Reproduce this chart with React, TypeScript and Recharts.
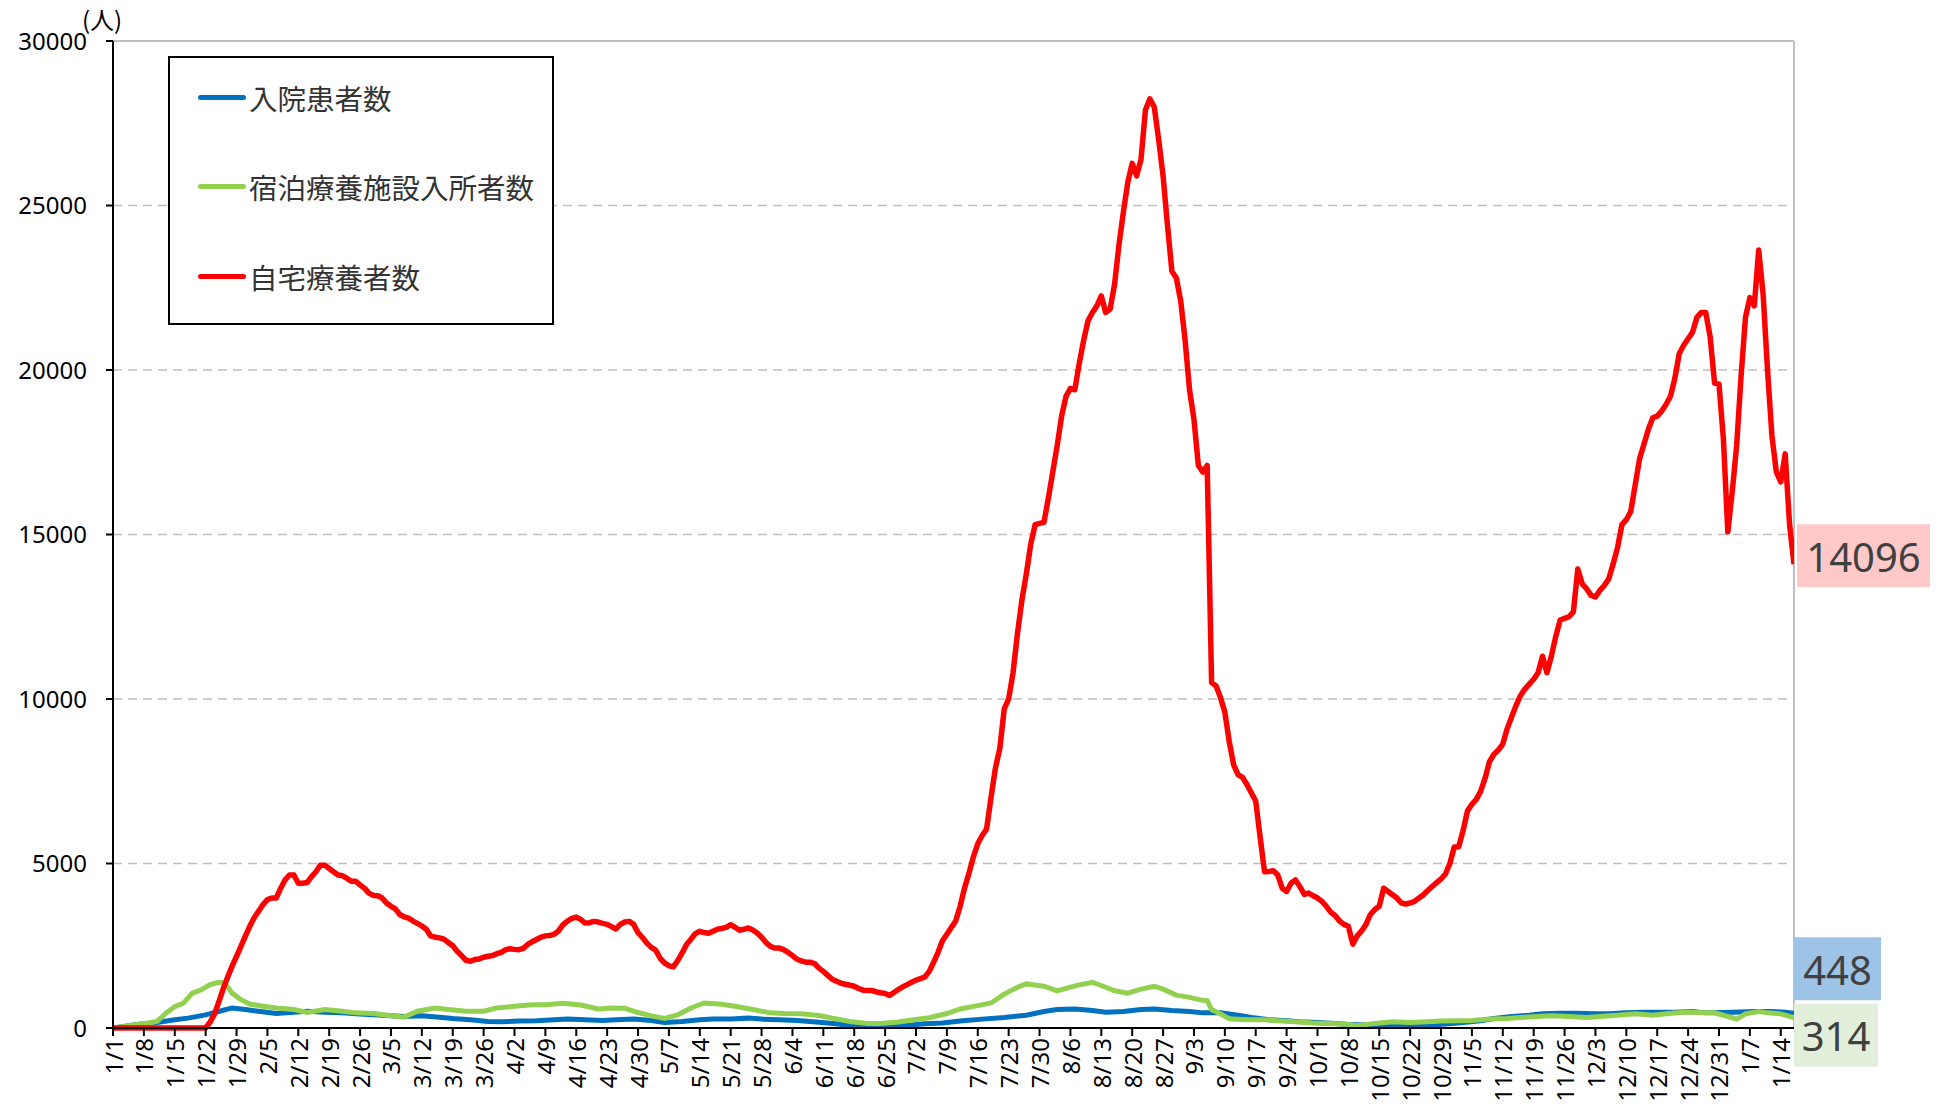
import React from 'react';
import { CartesianGrid, LabelList, Line, LineChart, ReferenceLine, XAxis, YAxis } from 'recharts';

const xTickLabels = [
  '1/1', '1/8', '1/15', '1/22', '1/29', '2/5', '2/12', '2/19', '2/26', '3/5', '3/12', '3/19', '3/26',
  '4/2', '4/9', '4/16', '4/23', '4/30', '5/7', '5/14', '5/21', '5/28', '6/4', '6/11', '6/18', '6/25',
  '7/2', '7/9', '7/16', '7/23', '7/30', '8/6', '8/13', '8/20', '8/27', '9/3', '9/10', '9/17', '9/24',
  '10/1', '10/8', '10/15', '10/22', '10/29', '11/5', '11/12', '11/19', '11/26', '12/3', '12/10',
  '12/17', '12/24', '12/31', '1/7', '1/14',
];
const yTicks = [0, 5000, 10000, 15000, 20000, 25000, 30000];
const lastDay = 381;

// 自宅療養者数, one value per day from 1/1
const homeCare = [
  0, 0, 0, 0, 0, 0, 0, 0, 0, 0,
  0, 0, 0, 0, 0, 0, 0, 0, 0, 0,
  0, 0, 180, 420, 800, 1200, 1550, 1880, 2180, 2480,
  2790, 3090, 3350, 3550, 3750, 3900, 3950, 3950, 4250, 4500,
  4650, 4650, 4400, 4400, 4420, 4600, 4750, 4950, 4950, 4850,
  4750, 4650, 4630, 4550, 4460, 4460, 4350, 4250, 4100, 4030,
  4020, 3950, 3800, 3700, 3620, 3450, 3380, 3340, 3250, 3180,
  3100, 3000, 2800, 2760, 2740, 2700, 2600, 2500, 2330, 2200,
  2060, 2030, 2080, 2100, 2150, 2180, 2200, 2260, 2300, 2380,
  2410, 2390, 2380, 2420, 2540, 2620, 2690, 2760, 2800, 2810,
  2850, 2950, 3140, 3250, 3330, 3370, 3300, 3190, 3200, 3240,
  3220, 3180, 3150, 3080, 3010, 3150, 3220, 3240, 3150, 2900,
  2750, 2580, 2450, 2370, 2120, 1980, 1890, 1860, 2050, 2280,
  2540, 2700, 2870, 2940, 2900, 2880, 2940, 3000, 3030, 3060,
  3140, 3060, 2970, 3000, 3040, 2980, 2890, 2760, 2600, 2480,
  2430, 2430, 2380, 2300, 2200, 2090, 2040, 2000, 2000, 1960,
  1820, 1720, 1600, 1480, 1420, 1360, 1330, 1300, 1270, 1200,
  1150, 1140, 1140, 1100, 1070, 1050, 990, 1080, 1170, 1250,
  1320, 1390, 1450, 1500, 1550, 1720, 2000, 2300, 2650, 2850,
  3050, 3250, 3700, 4250, 4700, 5200, 5600, 5850, 6050, 7000,
  7900, 8500, 9700, 10000, 10800, 12000, 13000, 13800, 14700, 15300,
  15340, 15370, 16100, 16900, 17700, 18600, 19200, 19440, 19400, 20200,
  20900, 21500, 21750, 21950, 22250, 21750, 21850, 22600, 23800, 24800,
  25700, 26280, 25900, 26400, 27900, 28240, 28000, 27000, 25900, 24400,
  23000, 22800, 22100, 20900, 19400, 18500, 17100, 16900, 17100, 10500,
  10400, 10050, 9600, 8700, 8000, 7700, 7620, 7400, 7150, 6900,
  5800, 4750, 4760, 4780, 4650, 4250, 4150, 4400, 4500, 4300,
  4060, 4100, 4020, 3950, 3850, 3700, 3520, 3420, 3250, 3150,
  3090, 2550, 2800, 2950, 3150, 3450, 3600, 3700, 4250, 4150,
  4050, 3950, 3800, 3770, 3800, 3850, 3950, 4050, 4180, 4300,
  4420, 4530, 4680, 5000, 5500, 5510, 6000, 6600, 6800, 6950,
  7200, 7600, 8100, 8320, 8450, 8630, 9100, 9450, 9800, 10100,
  10300, 10450, 10600, 10800, 11300, 10800, 11300, 11900, 12400, 12450,
  12500, 12650, 13950, 13500, 13350, 13150, 13100, 13300, 13450, 13650,
  14100, 14600, 15300, 15450, 15700, 16500, 17300, 17750, 18200, 18550,
  18600, 18750, 18950, 19200, 19750, 20500, 20750, 20950, 21150, 21600,
  21750, 21750, 21000, 19600, 19570, 17900, 15080, 16300, 17700, 19800,
  21600, 22200, 21950, 23650, 22300, 20000, 18000, 16900, 16600, 17450,
  15300, 14096,
];

// 宿泊療養施設入所者数 (sampled days)
const facilityDays = [
  0, 5, 8, 10, 12, 14, 16, 18, 20, 22, 24, 25, 26, 27, 29, 31, 34, 37, 41, 44, 48, 52, 55, 59, 63, 66,
  69, 73, 76, 80, 84, 87, 91, 95, 98, 102, 106, 110, 113, 116, 119, 122, 125, 128, 131, 134, 138, 141,
  145, 149, 152, 156, 160, 163, 167, 171, 174, 178, 182, 185, 189, 192, 196, 199, 202, 205, 207, 211,
  214, 217, 219, 222, 225, 227, 230, 233, 236, 238, 241, 244, 247, 248, 249, 251, 253, 257, 261, 264,
  268, 272, 275, 279, 282, 286, 290, 294, 298, 301, 305, 308, 312, 316, 319, 323, 326, 330, 334, 337,
  341, 345, 349, 352, 356, 358, 361, 363, 366, 368, 370, 373, 375, 378, 381,
];
const facilityValues = [
  0, 100, 150, 200, 450, 650, 760, 1060, 1160, 1320, 1390, 1380, 1250, 1060, 860, 730, 660, 610, 560, 470, 560, 510, 460, 440, 370, 330,
  510, 610, 560, 510, 510, 610, 660, 710, 710, 750, 700, 580, 610, 600, 470, 370, 290, 400, 610, 760, 720, 660,
  560, 460, 440, 430, 380, 300, 200, 140, 140, 180, 260, 310, 440, 580, 680, 760, 1030, 1240, 1340, 1270,
  1130, 1240, 1310, 1390, 1240, 1130, 1060, 1180, 1270, 1180, 1000, 930, 840, 830, 560, 430, 280, 250, 250, 220,
  190, 150, 140, 120, 70, 140, 190, 170, 190, 210, 220, 230, 270, 290, 320, 350, 370, 350, 320, 350,
  390, 430, 390, 430, 480, 480, 460, 460, 350, 270, 430, 500, 460, 430, 314,
];

// 入院患者数 (sampled days)
const hospitalDays = [
  0, 5, 10, 14, 17, 21, 25, 27, 30, 33, 37, 41, 44, 48, 52, 55, 59, 63, 66, 70, 74, 77, 81, 85, 88, 92,
  96, 100, 103, 107, 111, 114, 118, 122, 125, 129, 133, 136, 140, 144, 147, 151, 155, 158, 162, 166, 170,
  173, 177, 181, 184, 188, 192, 197, 202, 207, 211, 214, 218, 222, 225, 229, 233, 236, 240, 244, 247, 251,
  255, 258, 262, 266, 269, 273, 277, 280, 284, 288, 295, 299, 302, 306, 310, 313, 317, 321, 324, 328, 332,
  336, 339, 343, 347, 354, 358, 361, 365, 369, 372, 376, 379, 381,
];
const hospitalValues = [
  0, 100, 170, 250, 300, 400, 540, 610, 560, 510, 440, 480, 510, 480, 460, 430, 400, 370, 350, 370, 330, 290, 250, 200, 190, 210,
  220, 250, 270, 250, 230, 250, 270, 230, 170, 200, 250, 270, 270, 300, 270, 250, 230, 200, 150, 100, 70,
  50, 70, 90, 130, 150, 210, 270, 320, 390, 500, 560, 580, 530, 480, 500, 560, 580, 530, 500, 460, 460,
  390, 320, 250, 220, 190, 170, 140, 110, 90, 70, 70, 90, 120, 170, 220, 290, 350, 390, 430, 450, 450,
  430, 430, 460, 480, 480, 500, 460, 470, 490, 500, 500, 480, 448,
];

const homeData = homeCare.map((v, i) => ({ day: i, home: v }));
const facilityData = facilityDays.map((d, i) => ({ day: d, facility: facilityValues[i] }));
const hospitalData = hospitalDays.map((d, i) => ({ day: d, hospital: hospitalValues[i] }));
const xTicks = xTickLabels.map((_, i) => i * 7);

const numFont = '"Noto Sans", "DejaVu Sans", sans-serif';
const jpFont = '"Noto Sans CJK JP", "Noto Sans", sans-serif';

const XTick = (props: any) => {
  const { x, y, payload } = props;
  const label = xTickLabels[Math.round(payload.value / 7)];
  return (
    <text
      transform={`translate(${x},${y}) rotate(-90)`}
      textAnchor="end"
      dominantBaseline="central"
      fontSize={24}
      fontFamily={numFont}
      fill="#000"
    >
      {label}
    </text>
  );
};

const endLabel = (fill: string, width: number, dx: number, dy: number, lastIndex: number) => (props: any) => {
  const { x, y, index, value } = props;
  if (index !== lastIndex) return null;
  return (
    <g>
      <rect x={x + dx} y={y + dy} width={width} height={63} fill={fill} />
      <text
        x={x + dx + width / 2}
        y={y + dy + 32}
        textAnchor="middle"
        dominantBaseline="central"
        fontSize={40}
        fontFamily={numFont}
        fill="#404040"
      >
        {value}
      </text>
    </g>
  );
};

const legendItems = [
  { name: '入院患者数', color: '#0070C0' },
  { name: '宿泊療養施設入所者数', color: '#92D050' },
  { name: '自宅療養者数', color: '#FF0000' },
];

const App = () => {
  return (
    <div style={{ position: 'absolute', left: 0, top: 0, width: 1943, height: 1116, background: '#fff' }}>
      <LineChart width={1943} height={1116} margin={{ top: 41, right: 149, left: 53, bottom: 8 }}>
        <CartesianGrid vertical={false} stroke="#BFBFBF" strokeWidth={1.5} strokeDasharray="9 6" />
        <XAxis
          type="number"
          dataKey="day"
          domain={[0, lastDay]}
          ticks={xTicks}
          interval={0}
          tick={<XTick />}
          tickSize={8}
          tickMargin={2}
          height={80}
          stroke="#000"
          strokeWidth={2}
          allowDataOverflow
        />
        <YAxis
          domain={[0, 30000]}
          ticks={yTicks}
          interval={0}
          width={60}
          tickSize={7}
          tickMargin={19}
          stroke="#000"
          strokeWidth={2}
          tick={{ fontSize: 24, fill: '#000', fontFamily: numFont }}
        />
        <ReferenceLine y={30000} stroke="#BFBFBF" strokeWidth={2} />
        <ReferenceLine x={lastDay} stroke="#BFBFBF" strokeWidth={2} />
        <Line
          data={hospitalData}
          dataKey="hospital"
          type="linear"
          stroke="#0070C0"
          strokeWidth={5}
          dot={false}
          isAnimationActive={false}
        >
          <LabelList dataKey="hospital" content={endLabel('#9DC3E6', 87, 0, -76, hospitalData.length - 1)} />
        </Line>
        <Line
          data={facilityData}
          dataKey="facility"
          type="linear"
          stroke="#92D050"
          strokeWidth={5}
          dot={false}
          isAnimationActive={false}
        >
          <LabelList dataKey="facility" content={endLabel('#E2EFDA', 84, 0, -14, facilityData.length - 1)} />
        </Line>
        <Line
          data={homeData}
          dataKey="home"
          type="linear"
          stroke="#FF0000"
          strokeWidth={5.5}
          strokeLinejoin="round"
          dot={false}
          isAnimationActive={false}
        >
          <LabelList dataKey="home" content={endLabel('#FFC9C9', 133, 3, -40, homeData.length - 1)} />
        </Line>
      </LineChart>

      <div
        style={{
          position: 'absolute',
          left: 82,
          top: 4,
          fontSize: 24,
          fontFamily: jpFont,
          color: '#000',
          lineHeight: '30px',
        }}
      >
        (人)
      </div>

      <div
        style={{
          position: 'absolute',
          left: 168,
          top: 56,
          width: 382,
          height: 265,
          border: '2px solid #000',
          background: '#fff',
          boxSizing: 'content-box',
        }}
      >
        {legendItems.map((item, i) => (
          <div
            key={item.name}
            style={{
              position: 'absolute',
              left: 28,
              top: 19 + i * 89.5,
              height: 40,
              display: 'flex',
              alignItems: 'center',
            }}
          >
            <div style={{ width: 48, height: 5, borderRadius: 3, background: item.color }} />
            <span style={{ marginLeft: 3, fontSize: 28.5, fontFamily: jpFont, color: '#333', whiteSpace: 'nowrap' }}>
              {item.name}
            </span>
          </div>
        ))}
      </div>
    </div>
  );
};

export default App;
